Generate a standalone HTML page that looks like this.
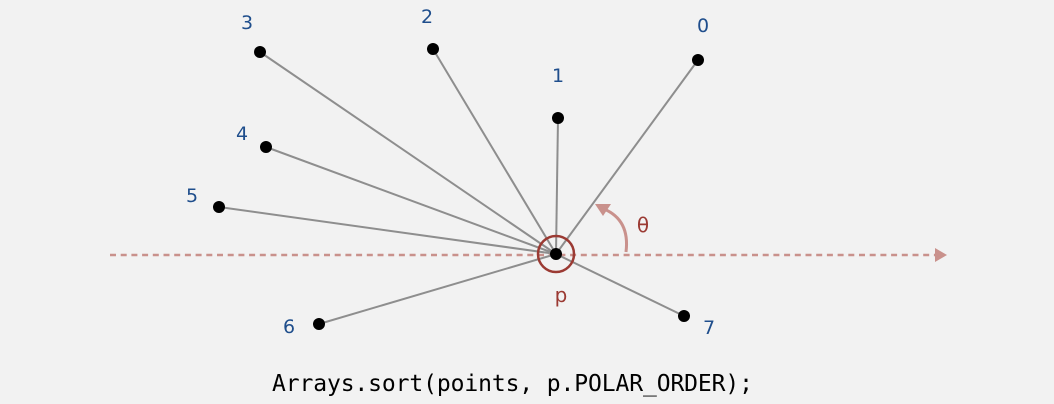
<!DOCTYPE html>
<html><head><meta charset="utf-8"><style>
html,body{margin:0;padding:0;background:#f2f2f2;}
svg{display:block;}
</style></head><body>
<svg width="1054" height="404" viewBox="0 0 1054 404" xmlns="http://www.w3.org/2000/svg">
<rect width="1054" height="404" fill="#f2f2f2"/>
<line x1="110" y1="255" x2="936" y2="255" stroke="#c9918c" stroke-width="2.5" stroke-dasharray="6,4.7"/>
<polygon points="935,248 947,255 935,262" fill="#c9918c"/>
<g stroke="#8e8e8e" stroke-width="2">
<line x1="556" y1="254" x2="698" y2="60"/>
<line x1="556" y1="254" x2="558" y2="118"/>
<line x1="556" y1="254" x2="433" y2="49"/>
<line x1="556" y1="254" x2="260" y2="52"/>
<line x1="556" y1="254" x2="266" y2="147"/>
<line x1="556" y1="254" x2="219" y2="207"/>
<line x1="556" y1="254" x2="319" y2="324"/>
<line x1="556" y1="254" x2="684" y2="316"/>
</g>
<path d="M626,252 Q630,220 604,209" fill="none" stroke="#c9918c" stroke-width="3"/>
<polygon points="595,204 611,204 603,216" fill="#c9918c"/>
<circle cx="556" cy="254" r="18" fill="none" stroke="#9b3a33" stroke-width="2.5"/>
<g fill="#000">
<circle cx="556" cy="254" r="6"/>
<circle cx="698" cy="60" r="6"/>
<circle cx="558" cy="118" r="6"/>
<circle cx="433" cy="49" r="6"/>
<circle cx="260" cy="52" r="6"/>
<circle cx="266" cy="147" r="6"/>
<circle cx="219" cy="207" r="6"/>
<circle cx="319" cy="324" r="6"/>
<circle cx="684" cy="316" r="6"/>
</g>
<g font-family="DejaVu Sans, sans-serif" font-size="19" fill="#1f4e8c" text-anchor="middle">
<text x="703" y="32">0</text>
<text x="558" y="82">1</text>
<text x="427" y="23">2</text>
<text x="247" y="29">3</text>
<text x="242" y="140">4</text>
<text x="192" y="202">5</text>
<text x="289" y="333">6</text>
<text x="709" y="334">7</text>
</g>
<text x="561" y="302" font-family="DejaVu Sans, sans-serif" font-size="20" fill="#9b3a33" text-anchor="middle">p</text>
<text x="643" y="232" font-family="DejaVu Sans, sans-serif" font-size="20" fill="#9b3a33" text-anchor="middle">θ</text>
<text x="272" y="391" font-family="DejaVu Sans Mono, Liberation Mono, monospace" font-size="23" fill="#000" textLength="481">Arrays.sort(points, p.POLAR_ORDER);</text>
</svg>
</body></html>
